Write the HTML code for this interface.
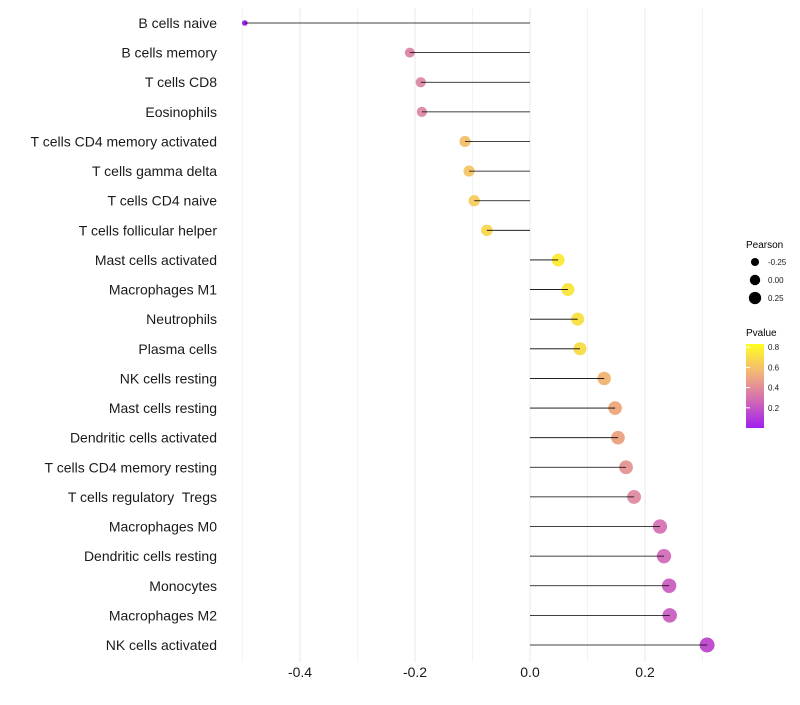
<!DOCTYPE html>
<html><head><meta charset="utf-8"><style>
body{margin:0;background:#fff;font-family:"Liberation Sans",Arial,sans-serif}
</style></head><body>
<svg id="chart" width="800" height="700" xmlns="http://www.w3.org/2000/svg" font-family="Liberation Sans, Arial, sans-serif">
<g id="grid"></g>
<g id="ylabels"></g>
<g id="points"></g>
<g id="segs"></g>
<g id="xticks"></g>
<g id="legend-size">
<text x="746" y="248" font-size="10">Pearson</text>
</g>
<g id="legend-color">
<text x="746" y="336" font-size="10">Pvalue</text>
<defs><linearGradient id="pg" x1="0" y1="1" x2="0" y2="0">
<stop offset="0" stop-color="#a020f0"/><stop offset="0.35" stop-color="#d56fb0"/><stop offset="0.65" stop-color="#f2b27a"/><stop offset="1" stop-color="#ffff20"/></linearGradient></defs>
<rect x="746" y="344" width="18" height="84" fill="url(#pg)"/>
</g>
</svg>
<script>
const categories=["B cells naive","B cells memory","T cells CD8","Eosinophils","T cells CD4 memory activated","T cells gamma delta","T cells CD4 naive","T cells follicular helper","Mast cells activated","Macrophages M1","Neutrophils","Plasma cells","NK cells resting","Mast cells resting","Dendritic cells activated","T cells CD4 memory resting","T cells regulatory  Tregs","Macrophages M0","Dendritic cells resting","Monocytes","Macrophages M2","NK cells activated"];
const pearson=[-0.496,-0.209,-0.19,-0.188,-0.113,-0.106,-0.097,-0.075,0.049,0.066,0.083,0.087,0.129,0.148,0.153,0.167,0.181,0.226,0.233,0.242,0.243,0.308];
const pvalues=[0.0,0.35,0.37,0.37,0.6,0.62,0.65,0.72,0.83,0.8,0.77,0.75,0.55,0.5,0.48,0.42,0.38,0.28,0.26,0.22,0.22,0.15];
const xTicks=[-0.4,-0.2,0.0,0.2];
const sizeLegend=[-0.25,0.00,0.25];
const colorLegend=[0.2,0.4,0.6,0.8];
const NS="http://www.w3.org/2000/svg";
const x=v=>530+v*575;
const y=i=>23+i*(622/21);
const r=v=>Math.sqrt(Math.max(2.25,25+60*(v+0.21)));
const stops=[[0,[160,32,240]],[0.15,[192,80,208]],[0.28,[214,122,184]],[0.37,[224,143,168]],[0.5,[238,170,128]],[0.62,[245,200,110]],[0.83,[250,235,60]]];
function col(p){for(let k=1;k<stops.length;k++){if(p<=stops[k][0]||k==stops.length-1){const a=stops[k-1],b=stops[k];let t=Math.max(0,Math.min(1,(p-a[0])/(b[0]-a[0])));return`rgb(${a[1].map((c,j)=>Math.round(c+(b[1][j]-c)*t)).join(",")})`;}}}
const py=p=>428-p*101;
function mk(tag,attrs,parent){const e=document.createElementNS(NS,tag);for(const k in attrs)e.setAttribute(k,attrs[k]);document.getElementById(parent).appendChild(e);return e;}
for(let g=-5;g<=3;g++){const l=mk("line",{x1:x(g/10),x2:x(g/10),y1:8,y2:662,stroke:"#ebebeb","stroke-width":g%2==0?1.1:0.6},"grid");

}
xTicks.forEach(v=>{const t=mk("text",{x:x(v),y:677,"text-anchor":"middle","font-size":14,fill:"#1a1a1a"},"xticks");t.textContent=v.toFixed(1);

});
categories.forEach((c,i)=>{
const t=mk("text",{x:217,y:y(i)+5,"text-anchor":"end","font-size":14,fill:"#1a1a1a",style:"white-space:pre"},"ylabels");t.textContent=c;


const p=mk("circle",{cx:x(pearson[i]),cy:y(i),r:r(pearson[i]),fill:col(pvalues[i])},"points");


const s=mk("line",{x1:x(0),x2:x(pearson[i]),y1:y(i),y2:y(i),stroke:"#000","stroke-width":0.8},"segs");


});
sizeLegend.forEach((v,k)=>{const cy=262+k*18;
const c=mk("circle",{cx:755,cy:cy,r:r(v)*0.85,fill:"#000"},"legend-size");


const t=mk("text",{x:768,y:cy+3,"font-size":8,fill:"#1a1a1a"},"legend-size");t.textContent=v.toFixed(2);

});
colorLegend.forEach(v=>{
const t=mk("text",{x:768,y:py(v)+3,"font-size":8,fill:"#1a1a1a"},"legend-color");t.textContent=v.toFixed(1);


const tk=mk("line",{x1:746,x2:750,y1:py(v),y2:py(v),stroke:"#fff"},"legend-color");

});
</script>
</body></html>
